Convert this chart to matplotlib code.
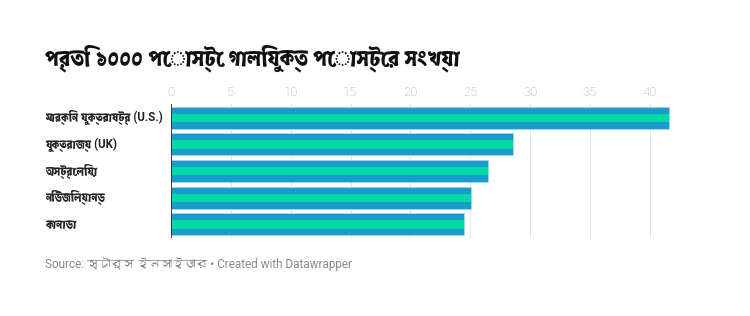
#!/usr/bin/env python3
"""Offensive posts per 1000 posts, horizontal bar chart (Datawrapper style)."""

import matplotlib
matplotlib.use("Agg")
import matplotlib.pyplot as plt
from matplotlib import font_manager, transforms
from matplotlib.ft2font import FT2Font

countries = ["মার্কিন যুক্তরাষ্ট্র (U.S.)", "যুক্তরাজ্য (UK)", "অস্ট্রেলিয়া",
             "নিউজিল্যান্ড", "কানাডা"]
values = [41.6, 28.6, 26.5, 25.1, 24.5]
ticks = [0, 5, 10, 15, 20, 25, 30, 35, 40]

title = "প্রতি ১০০০ পোস্টে গালিযুক্ত পোস্টের সংখ্যা"
source = "Source: স্টার্স ইনসাইডার • Created with Datawrapper"

BLUE = "#1b9bcb"
GREEN = "#03dba7"
EDGE = "#9bdcf2"


def find_bengali():
    """Return (regular, bold) family names that cover Bengali, if any."""
    reg, bold = None, None
    for f in font_manager.fontManager.ttflist:
        try:
            ft = FT2Font(f.fname)
            if ft.get_char_index(ord("ক")) == 0:
                continue
        except Exception:
            continue
        if f.weight in ("bold", 700, "heavy", 800, 600, "semibold"):
            bold = bold or f.name
        else:
            reg = reg or f.name
    return reg, bold or reg


bn_reg, bn_bold = find_bengali()
fam_reg = [x for x in ["Roboto", bn_reg, "DejaVu Sans"] if x]
fam_bold = [x for x in ["Roboto", bn_bold, "DejaVu Sans"] if x]

fig = plt.figure(figsize=(7.5, 3.16), dpi=100)
ax = fig.add_axes([171 / 750, 1 - 237.7 / 316, (673.7 - 171) / 750, 133.3 / 316])

y = list(range(len(countries)))
ax.barh(y, values, height=0.82, color=BLUE, edgecolor=EDGE, linewidth=0.6, zorder=2)
ax.barh(y, values, height=0.31, color=GREEN, linewidth=0, zorder=3)

ax.set_xlim(0, 42)
ax.set_ylim(4.5, -0.5)
ax.set_xticks(ticks)
ax.set_xticklabels([str(t) for t in ticks], family=fam_reg, color="#a8a8a8",
                   fontsize=9.5, fontweight="light")
ax.xaxis.tick_top()
ax.tick_params(axis="x", length=0, pad=4)
ax.set_yticks([])
ax.grid(axis="x", color="#e6e6e6", linewidth=0.8, zorder=0)
for s in ax.spines.values():
    s.set_visible(False)
ax.axvline(0, color="#222222", linewidth=1.2, zorder=4)

# category labels, left-aligned at a fixed figure x
lab_tr = transforms.blended_transform_factory(fig.transFigure, ax.transData)
for yi, name in zip(y, countries):
    ax.text(45 / 750, yi, name, transform=lab_tr, ha="left", va="center",
            family=fam_bold, fontsize=8.3, fontweight="bold", color="#222222")

fig.text(45 / 750, 1 - 58 / 316, title, ha="left", va="center",
         family=fam_bold, fontsize=15.5, fontweight="bold", color="#111111")
fig.text(45 / 750, 1 - 264 / 316, source, ha="left", va="center",
         family=fam_reg, fontsize=8.5, color="#8a8a8a")

fig.savefig("out.png", dpi=100, facecolor="white")
